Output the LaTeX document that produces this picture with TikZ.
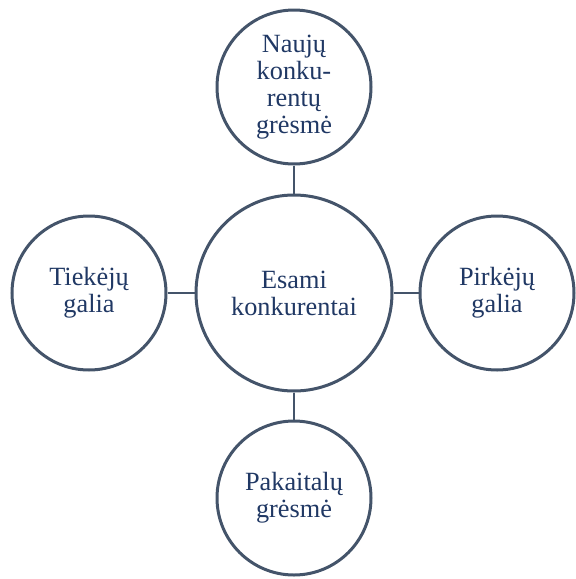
\documentclass[tikz,border=0pt]{standalone}
\usepackage{fontspec}
\setmainfont{Liberation Serif}
\definecolor{ringcol}{HTML}{44546A}
\definecolor{txtcol}{HTML}{203864}
\begin{document}
\begin{tikzpicture}[x=1pt,y=-1pt,
  ring/.style={circle,draw=ringcol,line width=3pt,fill=white,inner sep=0pt,
    align=center,text=txtcol,font=\fontsize{26.3}{27}\selectfont},
  small/.style={ring,minimum size=154pt},
  big/.style={ring,minimum size=196pt},
  link/.style={draw=ringcol,line width=2.5pt}]
\useasboundingbox (0,0) rectangle (576,579);
\node[big] (c) at (294,293) {Esami\\konkurentai};
\node[small] (t) at (294,87) {Naujų\\konku-\\rentų\\grėsmė};
\node[small] (l) at (89,293) {Tiekėjų\\galia};
\node[small] (r) at (497,293) {Pirkėjų\\galia};
\node[small] (b) at (294,498) {Pakaitalų\\grėsmė};
\draw[link] (t) -- (c);
\draw[link] (l) -- (c);
\draw[link] (c) -- (r);
\draw[link] (c) -- (b);
\end{tikzpicture}
\end{document}
